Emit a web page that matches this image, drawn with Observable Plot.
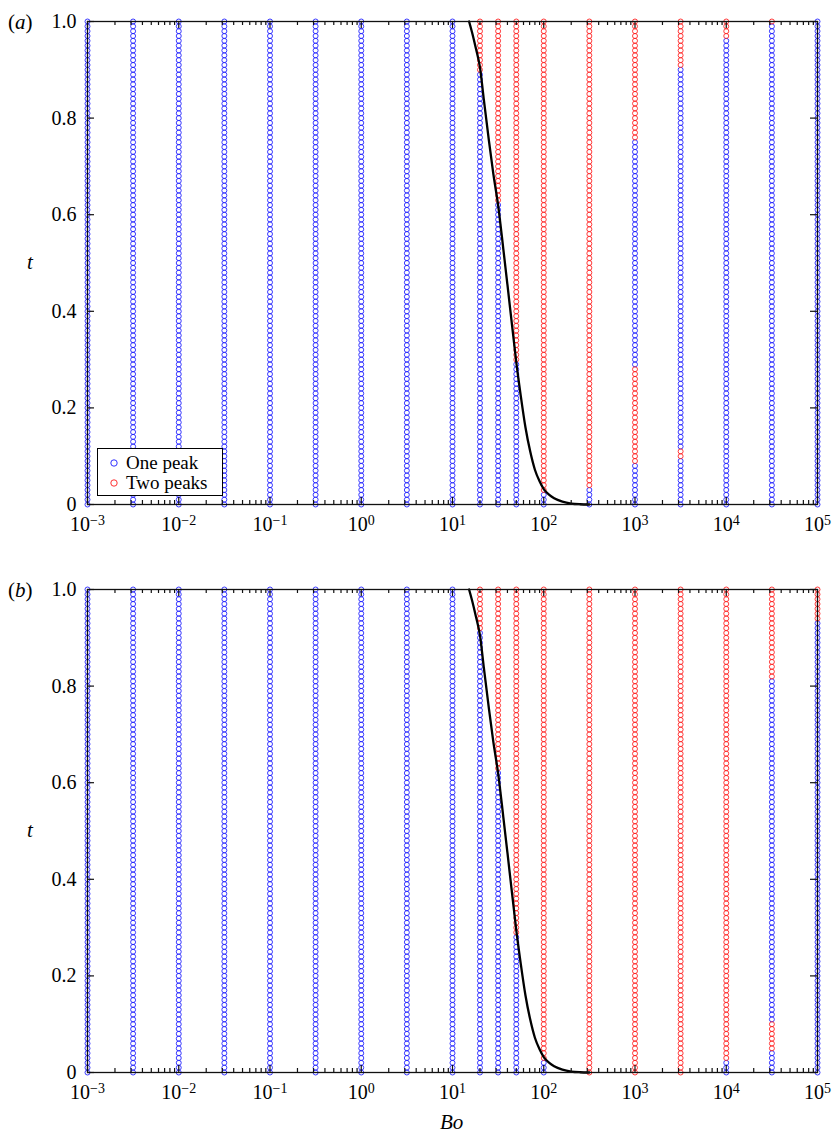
<!DOCTYPE html>
<html><head><meta charset="utf-8">
<script src="https://cdn.jsdelivr.net/npm/d3@7"></script>
<script src="https://cdn.jsdelivr.net/npm/@observablehq/plot@0.6"></script>
<style>
body{margin:0;background:#fff;font-family:"Liberation Serif","Nimbus Roman","Times New Roman","DejaVu Serif",serif;}
#wrap{position:relative;width:833px;height:1140px;overflow:hidden;}
#wrap svg{display:block;}
.lbl{position:absolute;font-size:21px;line-height:1;color:#000;white-space:nowrap;}
.legend{position:absolute;left:97px;top:448px;width:124px;height:46px;border:1px solid #000;background:#fff;font-size:19px;}
.legend .row{position:absolute;left:10px;height:20px;display:flex;align-items:center;}
.legend svg{margin-right:6px;}
</style></head><body>
<div id="wrap"></div>
<script>
// Column positions (Bond number) and sampled t values
const boValues = [0.001, 0.00316, 0.01, 0.0316, 0.1, 0.316, 1, 3.16, 10, 20, 31.6, 50, 100, 316, 1000, 3162, 10000, 31623, 100000];
const tSamples = d3.range(0, 101).map(i => i / 100);
// t-intervals where "Two peaks" occurs, per column (panel a)
const twoPeaksA = [[], [], [], [], [], [], [], [], [],
  [[0.90, 1]], [[0.63, 1]], [[0.30, 1]], [[0.03, 1]], [[0.04, 1]],
  [[0.76, 1], [0.09, 0.28]], [[0.91, 1], [0.10, 0.11]], [[0.97, 1]], [[1, 1]], []];
// panel b
const twoPeaksB = [[], [], [], [], [], [], [], [], [],
  [[0.92, 1]], [[0.63, 1]], [[0.29, 1]], [[0.03, 1]], [[0, 1]],
  [[0, 1]], [[0, 1]], [[0.03, 1]], [[0.82, 1], [0.05, 0.10]], [[0.94, 1]]];
// black boundary curve
const curveBo = [15.2, 16.5, 18, 20, 22, 25, 28, 31.6, 36, 40, 45, 50, 56, 63, 71, 80, 90, 100, 115, 130, 160, 200, 250, 316];
const curveT  = [1.0, 0.975, 0.945, 0.905, 0.84, 0.755, 0.685, 0.62, 0.53, 0.455, 0.37, 0.295, 0.225, 0.16, 0.11, 0.072, 0.048, 0.032, 0.02, 0.013, 0.006, 0.002, 0.0005, 0];
// ticks
const xTickExps = [-3, -2, -1, 0, 1, 2, 3, 4, 5];
const yTickValues = [0, 0.2, 0.4, 0.6, 0.8, 1.0];
const yTickLabels = ["0", "0.2", "0.4", "0.6", "0.8", "1.0"];
const minorMultipliers = [2, 3, 4, 5, 6, 7, 8, 9];

const BLUE = "#1a1aff", RED = "#ff1a1a";
const FONT = "'Liberation Serif', 'Nimbus Roman', 'Times New Roman', 'DejaVu Serif', serif";
const PX_PER_T = 483, PX_PER_DEC = 91.25;

function buildPoints(intervals) {
  const pts = [];
  boValues.forEach((bo, i) => {
    tSamples.forEach(t => {
      const two = intervals[i].some(([lo, hi]) => t >= lo - 1e-9 && t <= hi + 1e-9);
      pts.push({Bo: bo, t, type: two ? "two" : "one"});
    });
  });
  return pts;
}
const curve = curveBo.map((b, i) => ({Bo: b, t: curveT[i]}));
const majors = xTickExps.map(e => 10 ** e);
const minors = xTickExps.slice(0, -1).flatMap(e => minorMultipliers.map(m => m * 10 ** e));
const yTicks = yTickValues.map((v, i) => ({v, label: yTickLabels[i]}));

function panel(intervals, height, mt, mb) {
  const pts = buildPoints(intervals);
  const majT = 7 / PX_PER_T, minT = 4 / PX_PER_T;
  const yTickX = 10 ** (7 / PX_PER_DEC);
  return Plot.plot({
    width: 833, height, marginLeft: 87, marginRight: 16, marginTop: mt, marginBottom: mb,
    x: {type: "log", domain: [1e-3, 1e5], axis: null},
    y: {domain: [0, 1], axis: null},
    style: {fontFamily: FONT, fontSize: "20px", background: "white", overflow: "visible"},
    marks: [
      Plot.dot(pts.filter(d => d.type === "one"), {x: "Bo", y: "t", r: 2.5, stroke: BLUE, strokeWidth: 1.0, strokeOpacity: 0.85, fill: "none"}),
      Plot.dot(pts.filter(d => d.type === "two"), {x: "Bo", y: "t", r: 2.5, stroke: RED, strokeWidth: 1.0, strokeOpacity: 0.85, fill: "none"}),
      Plot.line(curve, {x: "Bo", y: "t", stroke: "black", strokeWidth: 2.3, curve: "monotone-x"}),
      Plot.frame({stroke: "#111", strokeWidth: 1.3}),
      Plot.ruleX(majors, {x: d => d, y1: 0, y2: majT, stroke: "#111", strokeWidth: 1.2}),
      Plot.ruleX(majors, {x: d => d, y1: 1, y2: 1 - majT, stroke: "#111", strokeWidth: 1.2}),
      Plot.ruleX(minors, {x: d => d, y1: 0, y2: minT, stroke: "#111", strokeWidth: 1.2}),
      Plot.ruleX(minors, {x: d => d, y1: 1, y2: 1 - minT, stroke: "#111", strokeWidth: 1.2}),
      Plot.ruleY(yTickValues, {y: d => d, x1: 1e-3, x2: 1e-3 * yTickX, stroke: "#111", strokeWidth: 1.2}),
      Plot.ruleY(yTickValues, {y: d => d, x1: 1e5, x2: 1e5 / yTickX, stroke: "#111", strokeWidth: 1.2}),
      Plot.text(yTicks, {y: "v", text: "label", frameAnchor: "left", dx: -11, textAnchor: "end", fontSize: 20, fill: "black"}),
      Plot.text(xTickExps, {x: e => 10 ** e, text: e => "10^" + (e < 0 ? "\u2212" + (-e) : e), frameAnchor: "bottom", dy: 26, fontSize: 20, fill: "black"})
    ]
  });
}

function superscript(svg) {
  const ns = "http://www.w3.org/2000/svg";
  svg.querySelectorAll("text").forEach(t => {
    if (!t.textContent.includes("^")) return;
    const [base, exp] = t.textContent.split("^");
    while (t.firstChild) t.removeChild(t.firstChild);
    const a = document.createElementNS(ns, "tspan"); a.textContent = base;
    const b = document.createElementNS(ns, "tspan"); b.textContent = exp;
    b.setAttribute("dy", "-0.42em"); b.setAttribute("font-size", "14");
    t.appendChild(a); t.appendChild(b);
  });
}

const wrap = document.getElementById("wrap");
const a = panel(twoPeaksA, 545, 21, 41);
const b = panel(twoPeaksB, 595, 44, 68);
superscript(a); superscript(b);
wrap.appendChild(a); wrap.appendChild(b);

function addLabel(html, left, top) {
  const d = document.createElement("div");
  d.className = "lbl"; d.innerHTML = html;
  d.style.left = left + "px"; d.style.top = top + "px";
  wrap.appendChild(d);
}
addLabel("(<i>a</i>)", 8, 12);
addLabel("(<i>b</i>)", 8, 580);
addLabel("<i>t</i>", 27, 252);
addLabel("<i>t</i>", 27, 820);
addLabel("<i>Bo</i>", 440, 1112);

const lg = document.createElement("div");
lg.className = "legend";
lg.innerHTML = `<div class="row" style="top:4px"><svg width="12" height="12"><circle cx="6" cy="6" r="3.2" fill="none" stroke="${BLUE}" stroke-width="0.9"/></svg>One peak</div>
<div class="row" style="top:24px"><svg width="12" height="12"><circle cx="6" cy="6" r="3.2" fill="none" stroke="${RED}" stroke-width="0.9"/></svg>Two peaks</div>`;
wrap.appendChild(lg);
</script>
</body></html>
